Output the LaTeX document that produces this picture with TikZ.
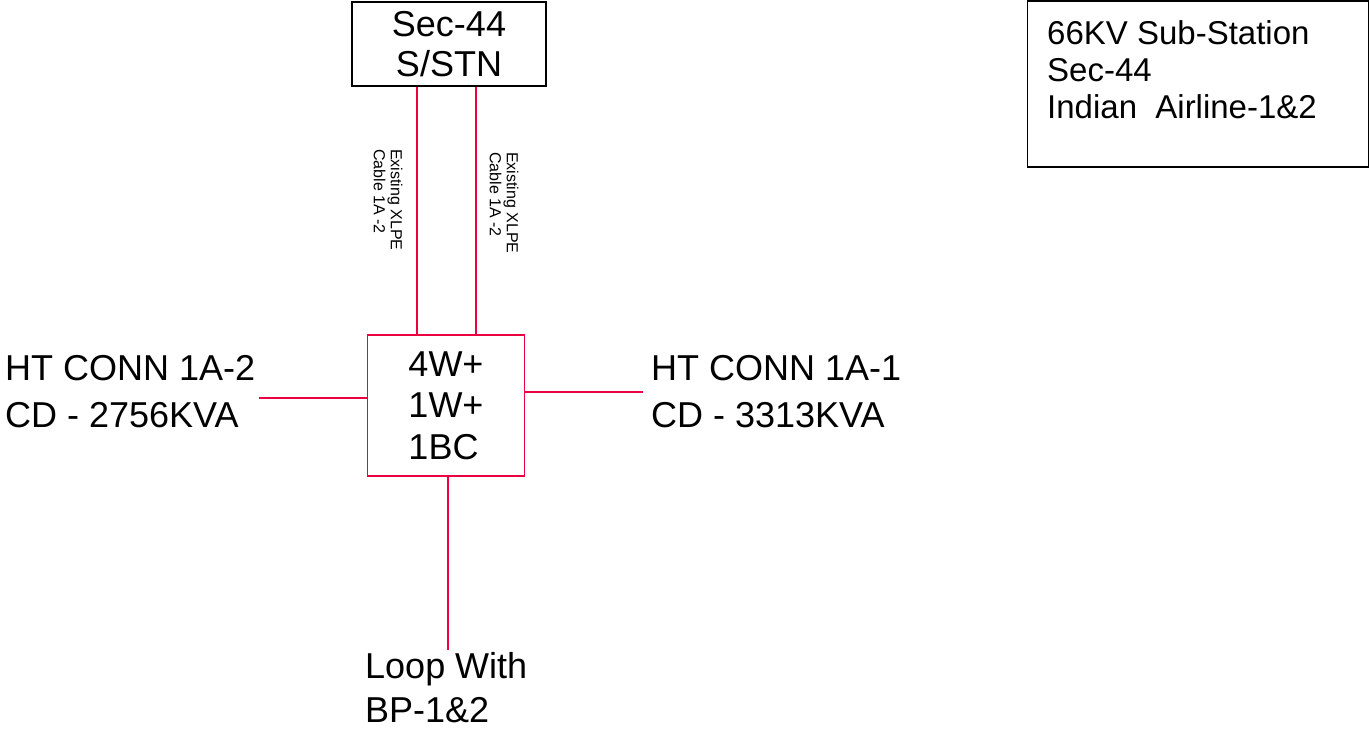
\documentclass[tikz,border=0pt]{standalone}
\usepackage{fontspec}
\setmainfont{Liberation Sans}
\definecolor{wire}{RGB}{235,0,65}
\begin{document}
\begin{tikzpicture}[x=1pt,y=-1pt,
  big/.style={font=\fontsize{36}{41}\selectfont,inner sep=0pt},
  side/.style={font=\fontsize{36}{47}\selectfont,inner sep=0pt,align=left},
  small/.style={font=\fontsize{16}{17}\selectfont,inner sep=0pt,align=left,rotate=-90},
  blackbox/.style={draw=black,line width=1.8pt,inner sep=0pt},
  redbox/.style={draw=wire,line width=1.8pt,inner sep=0pt},
  wireline/.style={draw=wire,line width=1.8pt}]
\useasboundingbox (0,0) rectangle (1369,730);
\node[blackbox,minimum width=194pt,minimum height=84pt,align=center,font=\fontsize{36}{40}\selectfont] (top) at (449,44) {Sec-44\\S/STN};
\node[redbox,minimum width=157pt,minimum height=141pt,align=left,font=\fontsize{36}{41.5}\selectfont] (mid) at (446,405.5) {4W+\\1W+\\1BC};
\node[side,anchor=west] (left) at (5,392) {HT CONN 1A-2\\CD - 2756KVA};
\node[side,anchor=west] (right) at (651,392) {HT CONN 1A-1\\CD - 3313KVA};
\node[side,anchor=north west,font=\fontsize{36}{44}\selectfont] (loop) at (365,652) {Loop With\\BP-1\&2};
\coordinate (loopend) at (448,650);
\node[small] (lab1) at (388,200) {Existing XLPE\\Cable 1A -2};
\node[small] (lab2) at (504,203) {Existing XLPE\\Cable 1A -2};
\node[draw=black,line width=1.6pt,minimum width=341pt,minimum height=166pt] (info) at (1198,84) {};
\node[anchor=north west,inner sep=0pt,align=left,font=\fontsize{33}{37}\selectfont] (infotext) at (1047,20) {66KV Sub-Station\\Sec-44\\Indian~~Airline-1\&2};
\draw[wireline] (top.south -| 417,0) -- (mid.north -| 417,0);
\draw[wireline] (top.south -| 476,0) -- (mid.north -| 476,0);
\draw[wireline] (mid.west |- 0,398) -- (259,398);
\draw[wireline] (mid.east |- 0,392) -- (643,392);
\draw[wireline] (mid.south -| loopend) -- (loopend);
\end{tikzpicture}
\end{document}
